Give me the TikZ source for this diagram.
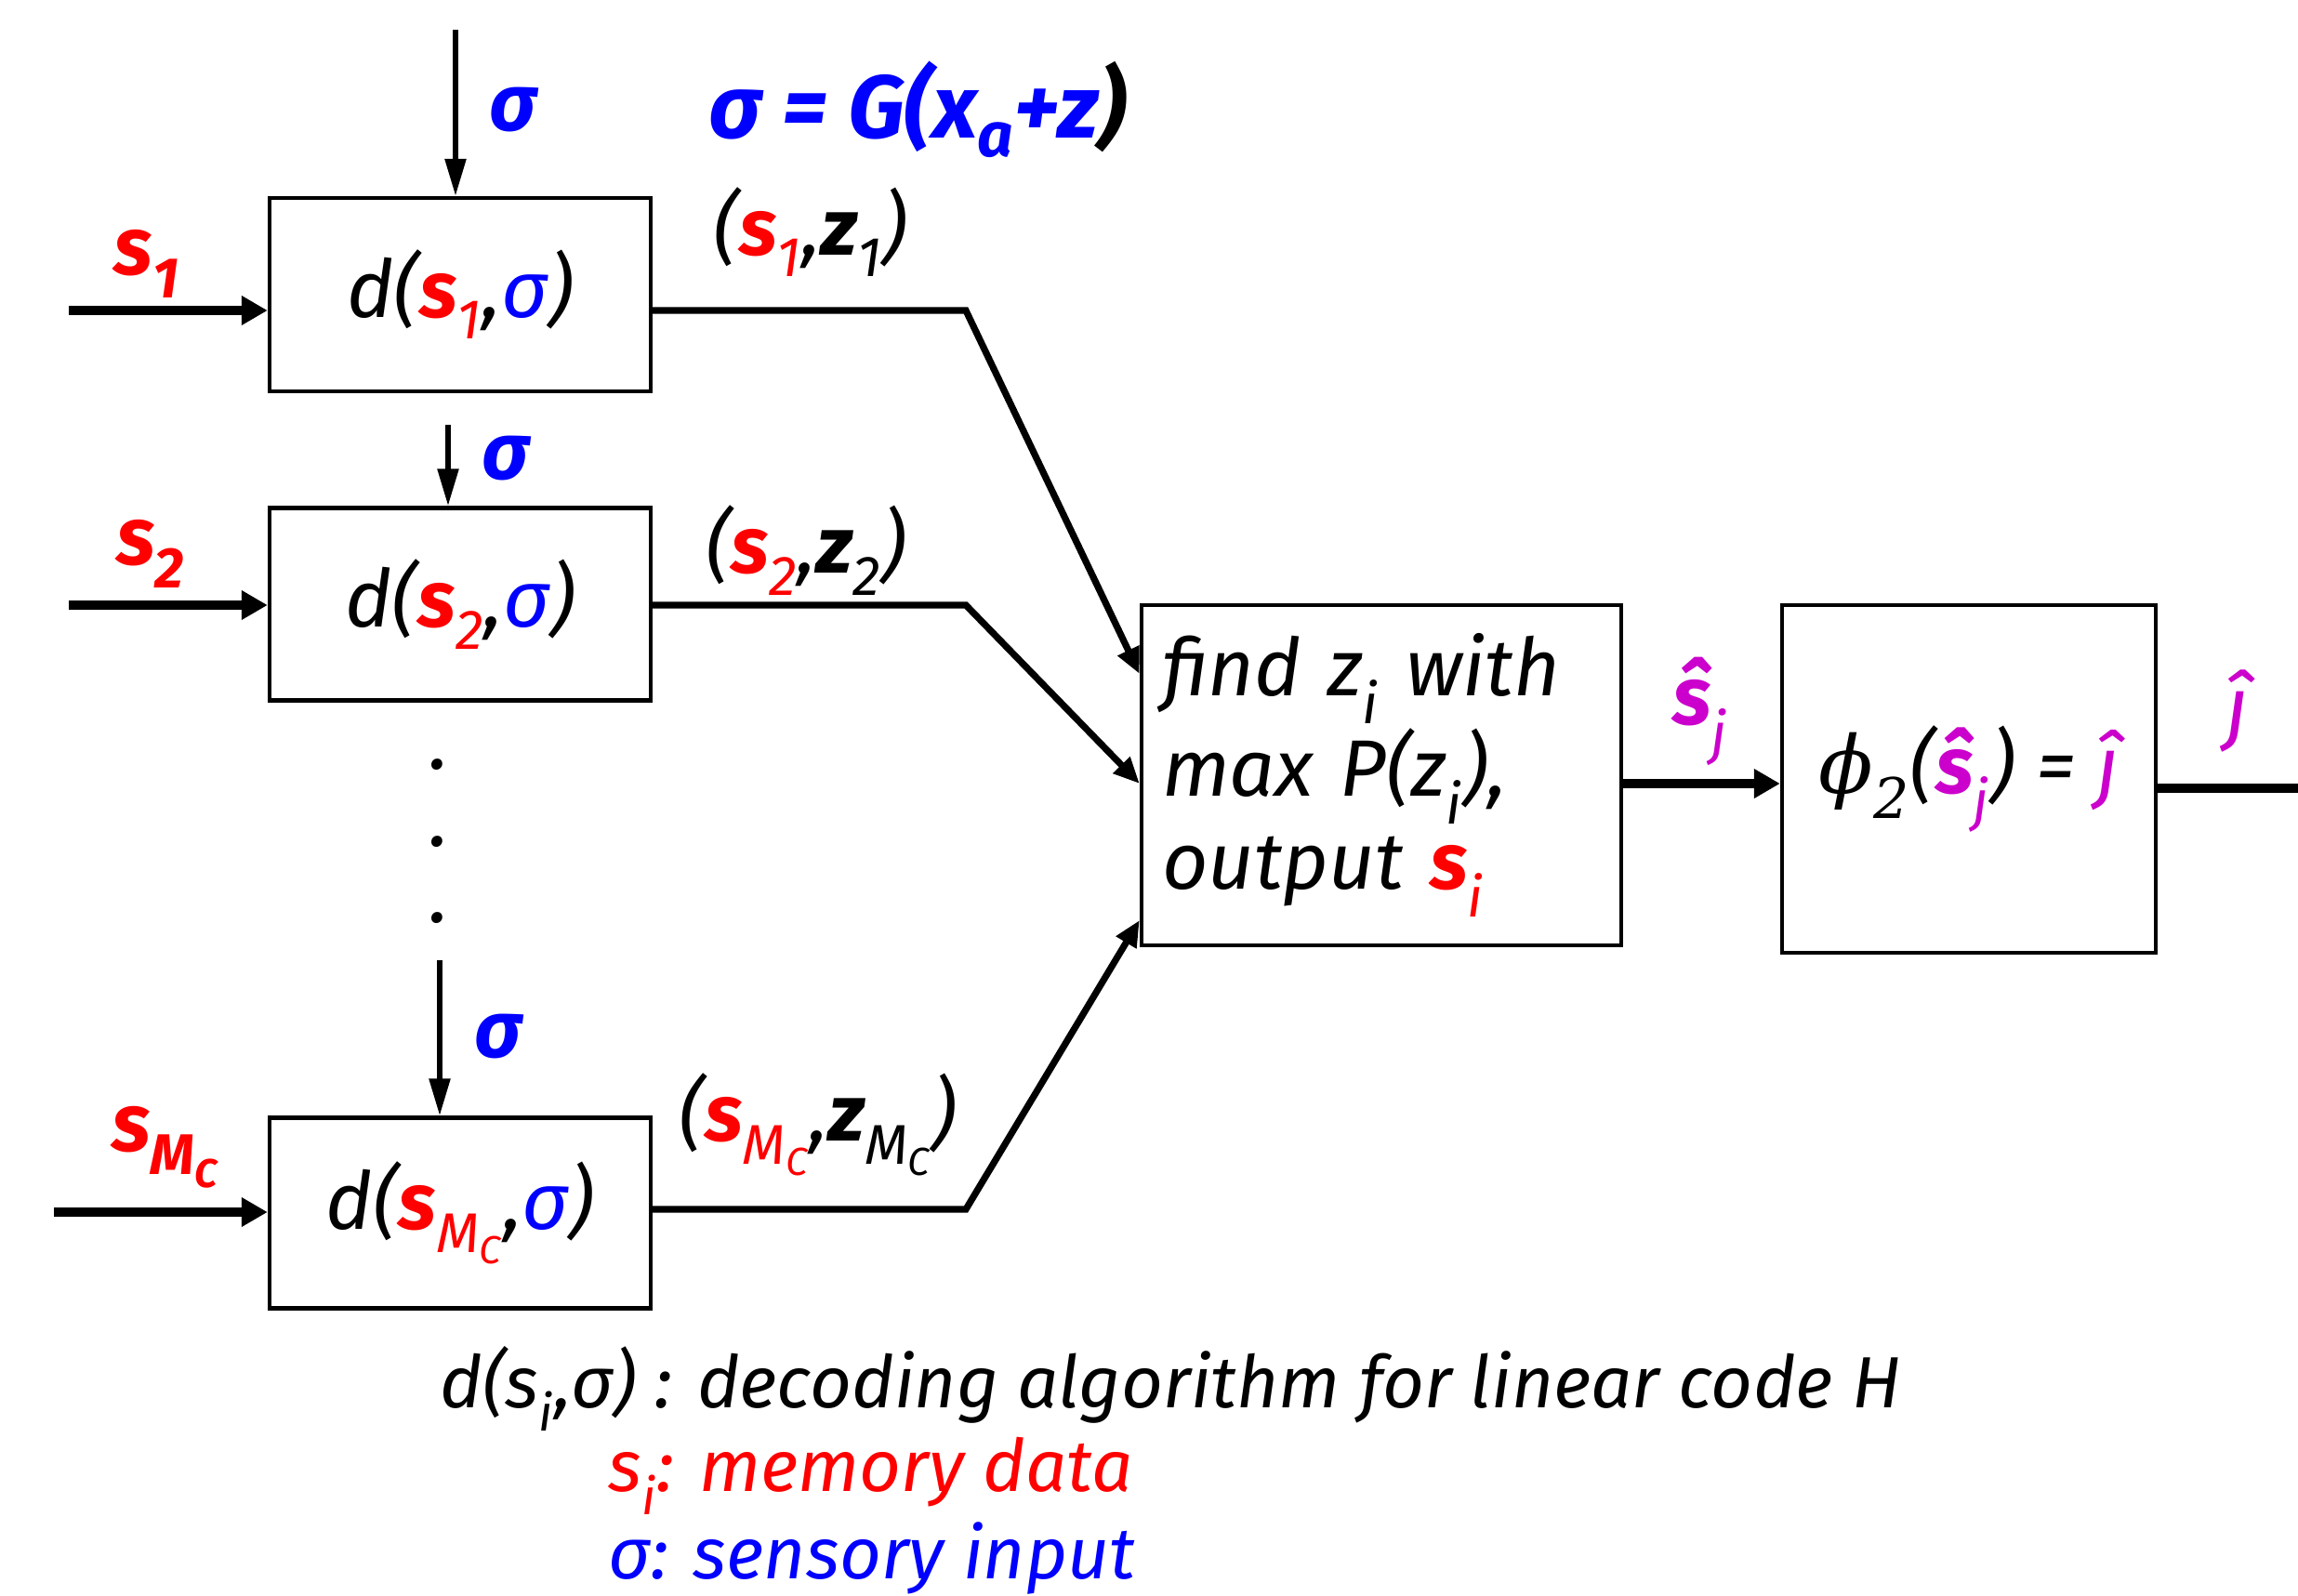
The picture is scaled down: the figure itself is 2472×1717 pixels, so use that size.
\documentclass[tikz,border=0pt]{standalone}
\usepackage{fontspec}
\setmainfont{Fira Sans}
\newfontfamily\phifont{DejaVu Serif}
\usetikzlibrary{arrows.meta,calc}
\definecolor{mag}{RGB}{204,0,204}
\newcommand\sbs[1]{\textsubscript{#1}}
\newcommand\rs{\textcolor{red}{\textbf{s}}}
\newcommand\bsig{\textcolor{blue}{σ}}
\begin{document}
\begin{tikzpicture}[x=0.5pt,y=-0.5pt,
  every node/.style={font=\fontsize{43}{48}\selectfont\itshape, inner sep=0pt},
  dbox/.style={draw, line width=2.2pt, minimum width=205pt, inner sep=4pt},
  thk/.style={line width=4.6pt},
  thkarr/.style={line width=4.6pt, -{Triangle[length=14pt,width=15pt]}},
  diagarr/.style={line width=3.6pt, -{Triangle[length=14pt,width=12pt]}},
  sigarr/.style={line width=2.8pt, -{Triangle[length=20pt,width=11pt]}},
  sig/.style={text=blue, font=\fontsize{43}{48}\selectfont\itshape\bfseries},
  slab/.style={text=red, font=\fontsize{44}{48}\selectfont\itshape\bfseries},
  note/.style={anchor=west, font=\fontsize{39}{44}\selectfont\itshape}]
\useasboundingbox (0,0) rectangle (2472,1717);

% decoder boxes
\node[dbox, minimum height=104pt] (b1) at (495,317) {d(\rs\textcolor{red}{\sbs{1}},\bsig)};
\node[dbox, minimum height=103.5pt] (b2) at (495,650) {d(\rs\textcolor{red}{\sbs{2}},\bsig)};
\node[dbox, minimum height=102.5pt] (b3) at (495,1305) {d(\rs\textcolor{red}{\sbs{M\sbs{C}}},\bsig)};

% selector box
\node[draw, line width=2.2pt, minimum height=183pt, text width=236pt, inner sep=11pt, align=left] (big) at (1486,834)
  {find z\sbs{i} with\\[2pt] max P(z\sbs{i}),\\[2pt] output \rs\textcolor{red}{\sbs{i}}};

% phi box
\node[draw, line width=2.2pt, minimum width=201pt, minimum height=187pt] (phi) at (2118,838)
  {{\phifont\itshape ϕ\sbs{2}}(\textcolor{mag}{\textbf{ŝ}\sbs{j}}) = \textcolor{mag}{ĵ}};

% sigma inputs
\coordinate (sg1) at (490,32);
\coordinate (sg2) at (482,457);
\coordinate (sg3) at (473,1033);
\draw[sigarr] (sg1) -- (sg1 |- b1.north);
\draw[sigarr] (sg2) -- (sg2 |- b2.north);
\draw[sigarr] (sg3) -- (sg3 |- b3.north);
\node[sig] (ls1sig) at (552,118) {σ};
\node[sig] (ls2sig) at (544,493) {σ};
\node[sig] (ls3sig) at (536,1115) {σ};
\node[sig, font=\fontsize{48}{52}\selectfont\itshape\bfseries] (eq) at (987,118) {σ = G(x\sbs{a}+z\textcolor{black}{)}};

% memory inputs
\coordinate (in1) at (74,334);
\coordinate (in2) at (74,651);
\coordinate (in3) at (58,1304);
\draw[thkarr] (in1) -- (in1 -| b1.west);
\draw[thkarr] (in2) -- (in2 -| b2.west);
\draw[thkarr] (in3) -- (in3 -| b3.west);
\node[slab] (ls1) at (158,284) {s\sbs{1}};
\node[slab] (ls2) at (162,596) {s\sbs{2}};
\node[slab] (ls3) at (178,1234) {s\sbs{M\sbs{C}}};

% dots
\node (d1) at (473,823) {.};
\node (d2) at (473,906) {.};
\node (d3) at (473,988) {.};

% decoder outputs
\coordinate (k1) at (1039,334);
\coordinate (k2) at (1039,651);
\coordinate (k3) at (1039,1301);
\draw[diagarr, line join=miter] (k1 -| b1.east) -- (k1) -- ([yshift=54.5pt]big.west);
\draw[diagarr, line join=miter] (k2 -| b2.east) -- (k2) -- ([yshift=-4.5pt]big.west);
\draw[diagarr, line join=miter] (k3 -| b3.east) -- (k3) -- ([yshift=-78pt]big.west);
\node (lz1) at (872,250) {(\rs\textcolor{red}{\sbs{1}},\textbf{z}\sbs{1})};
\node (lz2) at (867,592) {(\rs\textcolor{red}{\sbs{2}},\textbf{z}\sbs{2})};
\node (lz3) at (880,1210) {(\rs\textcolor{red}{\sbs{M\sbs{C}}},\textbf{z}\sbs{M\sbs{C}})};

% selector to phi
\draw[thkarr] ([yshift=-4.5pt]big.east) -- ([yshift=-4.5pt]big.east -| phi.west);
\node[text=mag, font=\fontsize{44}{48}\selectfont\itshape] (lsj) at (1829,765) {\textbf{ŝ}\sbs{j}};
\coordinate (jout) at (2472,848);
\draw[thk] (jout -| phi.east) -- (jout);
\node[text=mag, font=\fontsize{44}{48}\selectfont\itshape] (lj) at (2407,765) {ĵ};

% legend
\node[note] (n1) at (473,1494) {d(s\sbs{i},σ) : decoding algorithm for linear code H};
\node[note, text=red] (n2) at (654,1588) {s\sbs{i}: memory data};
\node[note, text=blue] (n3) at (654,1676) {σ: sensory input};
\end{tikzpicture}
\end{document}
